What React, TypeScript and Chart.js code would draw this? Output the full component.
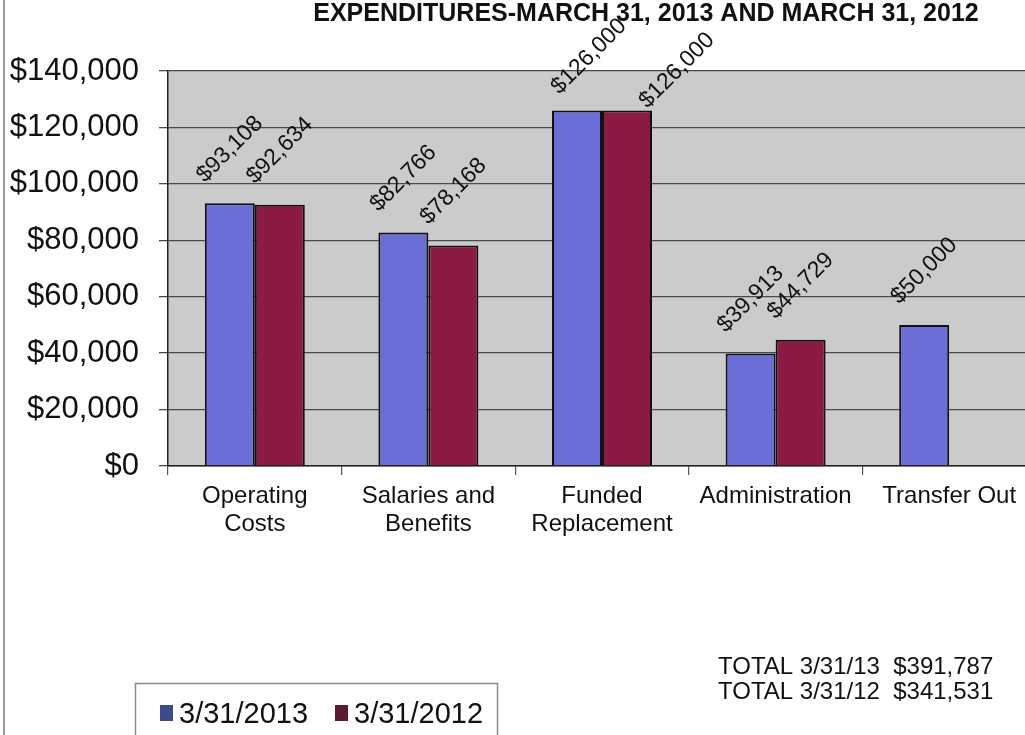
import { useEffect, useRef } from "react";
import { Chart, registerables } from "chart.js";

Chart.register(...registerables);

// ---------- data ----------
const chartTitle = "EXPENDITURES-MARCH 31, 2013 AND MARCH 31, 2012";
const categories: string[][] = [
  ["Operating", "Costs"],
  ["Salaries and", "Benefits"],
  ["Funded", "Replacement"],
  ["Administration"],
  ["Transfer Out"],
];
const seriesNames = ["3/31/2013", "3/31/2012"];
const totalNames = ["TOTAL 3/31/13", "TOTAL 3/31/12"];
const values2013: (number | null)[] = [93108, 82766, 126000, 39913, 50000];
const values2012: (number | null)[] = [92634, 78168, 126000, 44729, null];
const yMin = 0;
const yMax = 140000;
const yStep = 20000;

// ---------- styles ----------
const FONT = "'Liberation Sans', Arial, Helvetica, sans-serif";
const barColors = ["#6a6ed6", "#8b1b44"];
const swatchColors = ["#3e4b8a", "#5a1b2e"];
const plotBg = "#cbcbcb";
// small manual nudges for data labels (dataset index -> category index -> [dx, dy])
const labelNudges: Record<string, [number, number]> = {
  "0-2": [12, 0],
  "1-2": [50, 14],
};

const money = (v: number) => "$" + v.toLocaleString("en-US");
const sum = (arr: (number | null)[]) => arr.reduce((a: number, b) => a + (b ?? 0), 0);

export default function App() {
  const ref = useRef<HTMLCanvasElement | null>(null);

  useEffect(() => {
    const canvas = ref.current;
    if (!canvas) return;

    const bgPlugin = {
      id: "plotBg",
      beforeDraw(chart: any) {
        const { ctx, chartArea: a } = chart;
        ctx.save();
        ctx.fillStyle = "#ffffff";
        ctx.fillRect(0, 0, chart.width, chart.height);
        ctx.fillStyle = plotBg;
        ctx.fillRect(a.left, a.top, a.right - a.left, a.bottom - a.top);
        ctx.restore();
      },
    };

    const labelsPlugin = {
      id: "valueLabels",
      afterDatasetsDraw(chart: any) {
        const { ctx } = chart;
        ctx.save();
        ctx.font = `23px ${FONT}`;
        ctx.fillStyle = "#111";
        ctx.textAlign = "center";
        ctx.textBaseline = "middle";
        chart.data.datasets.forEach((ds: any, di: number) => {
          const meta = chart.getDatasetMeta(di);
          meta.data.forEach((el: any, i: number) => {
            const v = ds.data[i];
            if (v == null) return;
            const n = labelNudges[`${di}-${i}`] || [0, 0];
            const cx = el.x + n[0];
            const cy = el.y - 54 + n[1];
            ctx.save();
            ctx.translate(cx, cy);
            ctx.rotate(-Math.PI / 4);
            ctx.fillText(money(v), 0, 0);
            ctx.restore();
          });
        });
        ctx.restore();
      },
    };

    const decorPlugin = {
      id: "decor",
      afterDraw(chart: any) {
        const { ctx } = chart;
        ctx.save();
        // left frame line
        ctx.strokeStyle = "#9a9a9a";
        ctx.lineWidth = 2;
        ctx.beginPath();
        ctx.moveTo(4, 0);
        ctx.lineTo(4, chart.height);
        ctx.stroke();

        // title
        ctx.fillStyle = "#111";
        ctx.font = `bold 25px ${FONT}`;
        ctx.textAlign = "center";
        ctx.textBaseline = "alphabetic";
        ctx.fillText(chartTitle, 646, 21);

        // totals
        ctx.font = `24px ${FONT}`;
        ctx.textAlign = "left";
        const totals = [sum(values2013), sum(values2012)];
        totalNames.forEach((t, i) => {
          ctx.fillText(`${t}  ${money(totals[i])}`, 718, 674 + i * 25);
        });

        // legend box
        ctx.strokeStyle = "#8c8c8c";
        ctx.lineWidth = 1.5;
        ctx.strokeRect(135.5, 683.5, 362, 80);
        ctx.font = `29px ${FONT}`;
        ctx.textBaseline = "alphabetic";
        let x = 160;
        seriesNames.forEach((name, i) => {
          ctx.fillStyle = swatchColors[i];
          ctx.fillRect(x, 705, 13, 16);
          ctx.fillStyle = "#111";
          ctx.fillText(name, x + 19, 723);
          x += 175;
        });
        ctx.restore();
      },
    };

    const chart = new Chart(canvas, {
      type: "bar",
      data: {
        labels: categories,
        datasets: [
          {
            label: seriesNames[0],
            data: values2013,
            backgroundColor: barColors[0],
            borderColor: "#111",
            borderWidth: 2,
          },
          {
            label: seriesNames[1],
            data: values2012,
            backgroundColor: barColors[1],
            borderColor: "#111",
            borderWidth: 2,
          },
        ],
      },
      options: {
        responsive: false,
        animation: false,
        devicePixelRatio: 1,
        layout: { padding: { top: 71, right: 4, bottom: 0, left: 0 } },
        plugins: {
          legend: { display: false },
          title: { display: false },
          tooltip: { enabled: false },
        },
        datasets: {
          bar: { categoryPercentage: 0.576, barPercentage: 1 },
        },
        scales: {
          x: {
            grid: {
              display: true,
              drawOnChartArea: false,
              drawTicks: true,
              tickLength: 9,
              color: "#555",
              lineWidth: 1.2,
              offset: true,
            },
            border: { display: true, color: "#222", width: 1.5 },
            ticks: {
              color: "#111",
              font: { family: FONT, size: 24, lineHeight: 1.17 },
              padding: 7,
              maxRotation: 0,
              autoSkip: false,
            },
            afterFit(scale: any) {
              scale.height = 269;
            },
          },
          y: {
            min: yMin,
            max: yMax,
            grid: {
              color: "#4a4a4a",
              lineWidth: 1.3,
              tickLength: 9,
            },
            border: { display: true, color: "#222", width: 1.5 },
            ticks: {
              stepSize: yStep,
              color: "#111",
              font: { family: FONT, size: 31 },
              padding: 20,
              callback: (v: any) => money(Number(v)),
            },
            afterFit(scale: any) {
              scale.width = 168;
            },
          },
        },
      },
      plugins: [bgPlugin, labelsPlugin, decorPlugin],
    });

    return () => chart.destroy();
  }, []);

  return (
    <canvas
      ref={ref}
      width={1040}
      height={735}
      style={{ position: "fixed", left: 0, top: 0, width: 1040, height: 735, display: "block" }}
    />
  );
}
